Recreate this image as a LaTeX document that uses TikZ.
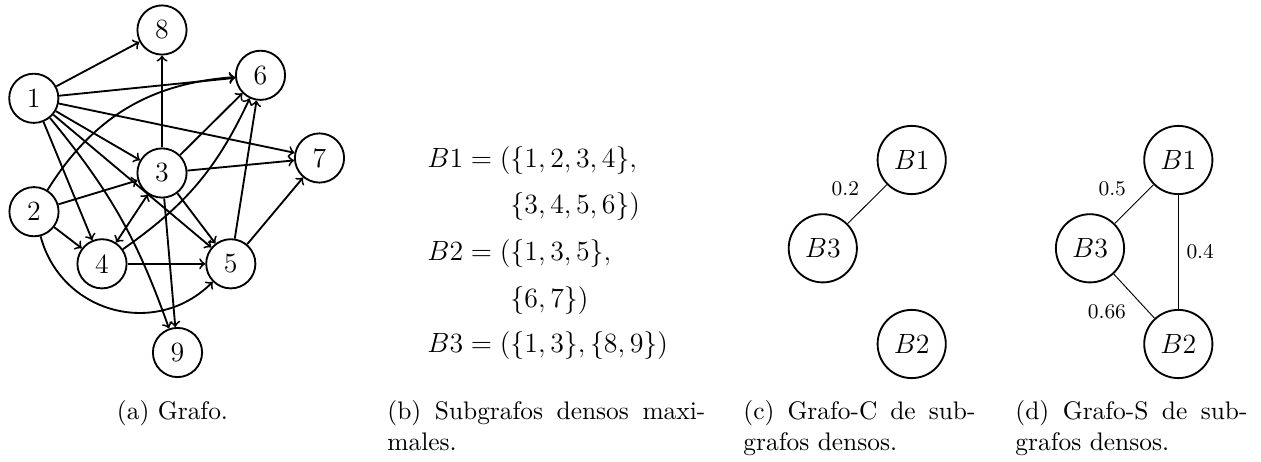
\documentclass[tikz,border=0pt]{standalone}
\begin{document}
\begin{tikzpicture}[x=0.431pt,y=0.431pt,
  gnode/.style={circle,draw,thick,minimum size=21.2pt,inner sep=0pt,font=\fontsize{12}{14}\selectfont},
  bnode/.style={circle,draw,thick,minimum size=29.4pt,inner sep=0pt,font=\fontsize{12}{14}\selectfont},
  arc/.style={->,thick},
  wedge/.style={thin},
  wlabel/.style={font=\fontsize{9}{11}\selectfont},
  captext/.style={anchor=base west,inner sep=0pt,font=\fontsize{10.95}{13.6}\selectfont},
  eqn/.style={anchor=base west,inner sep=0pt,font=\fontsize{12}{14}\selectfont}]
\useasboundingbox (0,0) rectangle (1261,461);
% (a) graph
\node[gnode] (n1) at (33.8,362.7) {1};
\node[gnode] (n2) at (34,249.3) {2};
\node[gnode] (n3) at (162,288) {3};
\node[gnode] (n4) at (102,197.2) {4};
\node[gnode] (n5) at (230.8,197.2) {5};
\node[gnode] (n6) at (260.5,385.7) {6};
\node[gnode] (n7) at (319.5,303) {7};
\node[gnode] (n8) at (162,431) {8};
\node[gnode] (n9) at (177.5,108.5) {9};
\draw[arc] (n1) -- (n8);
\draw[arc] (n1) -- (n6);
\draw[arc] (n1) -- (n7);
\draw[arc] (n1) -- (n3);
\draw[arc] (n1) -- (n4);
\draw[arc] (n1) -- (n5);
\draw[arc] (n1) to[bend left=10] (n9);
\draw[arc] (n2) to[bend left=27] (n6);
\draw[arc] (n2) -- (n3);
\draw[arc] (n2) -- (n4);
\draw[arc] (n2) to[out=-75,in=-135,looseness=1.15] (n5);
\draw[arc] (n3) -- (n8);
\draw[arc] (n3) -- (n6);
\draw[arc] (n3) -- (n7);
\draw[arc] (n3) -- (n5);
\draw[arc] (n3) -- (n9);
\draw[arc,<->] (n4) -- (n3);
\draw[arc] (n4) to[bend right=15] (n6);
\draw[arc] (n4) -- (n5);
\draw[arc] (n5) -- (n6);
\draw[arc] (n5) -- (n7);
% (b) equations
\node[eqn] (eq1) at (427,293) {$B1 = (\{1,2,3,4\},$};
\node[eqn] (eq2) at (427,248) {$\phantom{B1 = (}\{3,4,5,6\})$};
\node[eqn] (eq3) at (427,201) {$B2 = (\{1,3,5\},$};
\node[eqn] (eq4) at (427,154) {$\phantom{B2 = (}\{6,7\})$};
\node[eqn] (eq5) at (427,109) {$B3 = (\{1,3\},\{8,9\})$};
% (c)
\node[bnode] (c1) at (911.7,301) {$B1$};
\node[bnode] (c3) at (822.8,212.7) {$B3$};
\node[bnode] (c2) at (911.7,117) {$B2$};
\draw[wedge] (c3) -- node[wlabel,above left] {0.2} (c1);
% (d)
\node[bnode] (d1) at (1178.3,301) {$B1$};
\node[bnode] (d3) at (1090,212.7) {$B3$};
\node[bnode] (d2) at (1178.3,117) {$B2$};
\draw[wedge] (d3) -- node[wlabel,above left] {0.5} (d1);
\draw[wedge] (d1) -- node[wlabel,right] {0.4} (d2);
\draw[wedge] (d3) -- node[wlabel,below left] {0.66} (d2);
% captions
\node[captext,anchor=base] (capa) at (172.5,42) {(a) Grafo.};
\node[captext] (capb) at (387,42) {\parbox[t]{137pt}{(b) Subgrafos densos maxi-\linebreak males.}};
\node[captext] (capc) at (743,42) {\parbox[t]{100pt}{(c) Grafo-C de sub-\linebreak grafos densos.}};
\node[captext] (capd) at (1015,42) {\parbox[t]{100pt}{(d) Grafo-S de sub-\linebreak grafos densos.}};
\end{tikzpicture}
\end{document}
